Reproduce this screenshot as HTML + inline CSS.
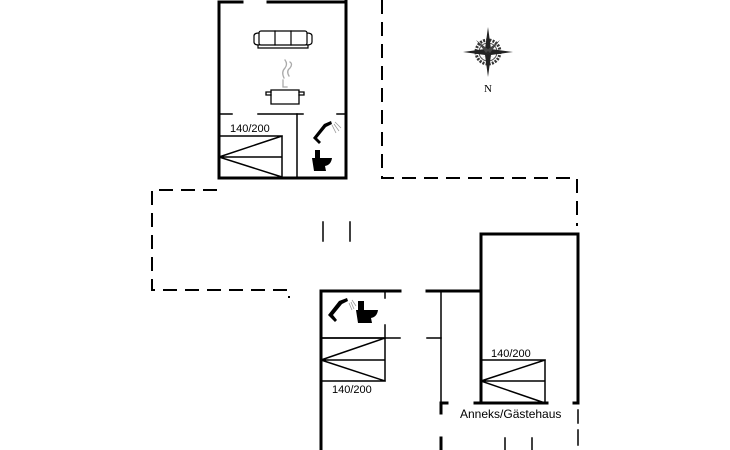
<!DOCTYPE html>
<html><head><style>html,body{margin:0;padding:0;background:#fff;}svg{display:block}</style></head>
<body>
<svg width="730" height="450" viewBox="0 0 730 450" xmlns="http://www.w3.org/2000/svg" font-family="Liberation Sans, Arial, sans-serif">
<g stroke="#000" fill="none" stroke-linecap="square">
<!-- top building -->
<g stroke-width="3">
<path d="M219 2V178H346V0"/>
<path d="M219 2H242M268 2H346"/>
</g>
<g stroke-width="1.5">
<path d="M219 114H232M258 114H303M337 114H346"/>
<path d="M297 114V177"/>
<path d="M219 136H282V177M219 157H282M219 157L282 136M219 157L282 177"/>
</g>
<!-- dashed outlines -->
<g stroke-width="2" stroke-dasharray="14 8" stroke-linecap="butt">
<path d="M382 0V178H577V226"/>
<path d="M217 190H152V290H289V298"/>
</g>
<path d="M323 222V241M350 222V241" stroke-width="1.5"/>
<!-- lower building -->
<g stroke-width="3">
<path d="M321 450V291H400M427 291H481V234H578V403"/>
<path d="M481 234V403M475 403H547M574 403H578"/>
<path d="M441 403V413M441 403H447"/>
<path d="M441 438V450"/>
</g>
<g stroke-width="1.5">
<path d="M441 291V403"/>
<path d="M385 291V298M385 325V338"/>
<path d="M321 338H400M427 338H441"/>
<path d="M321 338H385V381H321M321 360H385M321 360L385 338M321 360L385 381"/>
<path d="M481 360H545V403M481 381H545M481 381L545 360M481 381L545 403"/>
<path d="M578 410V423M578 430V445M505 438V450M532 438V450"/>
</g>
<!-- sofa -->
<g stroke-width="1.2">
<rect x="259" y="31" width="48" height="14" rx="2"/>
<path d="M275 31V45M291 31V45"/>
<path d="M254 36Q254 33 259 33M254 36V42Q254 45 259 45M312 36Q312 33 307 33M312 36V42Q312 45 307 45"/>
<path d="M258 45V48M308 45V48M258 48H308"/>
</g>
<!-- pot -->
<g stroke-width="1.3">
<path d="M271 90V104H299V90Z"/>
<path d="M271 92H266V95H271M299 92H304V95H299"/>
<path d="M283 87V80M283 87H287" stroke="#aaa"/>
<path d="M284 78Q281 72 285 68Q288 64 285 60M289 76Q286 71 290 68Q293 64 290 62" stroke="#aaa"/>
</g>
</g>
<!-- shower & toilet top -->
<g fill="#000">
<path d="M313 138L324 124L331 121L332 124L326 127L317 138L321 142L319 144Z"/>
<rect x="315" y="150" width="5" height="8"/>
<path d="M312 158H332Q331 165 325 166L326 171H314Z"/>
<path d="M326 362L337 348" />
</g>
<g stroke="#999" stroke-width="0.8" fill="none"><path d="M332 125L336 133M334 124L339 131M335 122L341 128"/></g>
<!-- shower & toilet lower -->
<g fill="#000">
<path d="M328 315L339 301L347 298L348 301L342 304L333 315L337 320L335 322Z"/>
<rect x="358" y="301" width="6" height="9"/>
<path d="M356 310H378Q377 317 371 318L372 323H358Z"/>
</g>
<g stroke="#999" stroke-width="0.8" fill="none"><path d="M349 303L352 310M351 302L354 309M352 300L356 306"/></g>
<!-- compass -->
<g transform="translate(488,52)">
<circle r="12" fill="none" stroke="#333" stroke-width="3" stroke-dasharray="2 1.2"/>
<circle r="9" fill="none" stroke="#555" stroke-width="1"/>
<path d="M0 -25L3 -3L0 0L-3 -3Z M0 25L3 3L0 0L-3 3Z M-25 0L-3 -3L0 0L-3 3Z M25 0L3 -3L0 0L3 3Z" fill="#222"/>
<path d="M-12 -12L1 -2L-2 1Z M12 -12L2 1L-1 -2Z M-12 12L-1 2L2 -1Z M12 12L-2 -1L1 2Z" fill="#444"/>
</g>
<text x="488" y="92" font-family="Liberation Serif, serif" font-size="11" text-anchor="middle">N</text>
<g font-size="11" fill="#000">
<text x="230" y="132">140/200</text>
<text x="332" y="393">140/200</text>
<text x="491" y="357">140/200</text>
<text x="460" y="418" font-size="12">Anneks/Gästehaus</text>
</g>
</svg>
</body></html>
